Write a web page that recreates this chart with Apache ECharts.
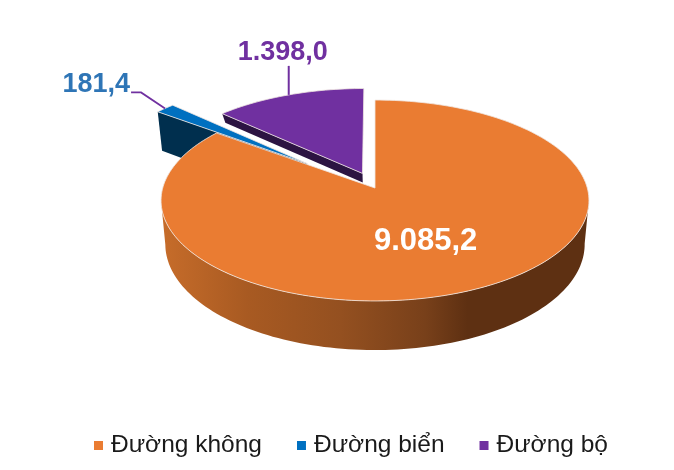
<!DOCTYPE html>
<html>
<head>
<meta charset="utf-8">
<style>html,body{margin:0;padding:0;background:#fff}#c{width:674px;height:470px}</style>
<script src="https://cdn.jsdelivr.net/npm/echarts@6/dist/echarts.min.js"></script>
</head>
<body>
<div id="c"></div>
<script>
const categories = ['Đường không', 'Đường biển', 'Đường bộ'];
const values = [9085.2, 181.4, 1398.0];
const topColors = ['#ea7c32', '#0070c0', '#7030a0'];
const sideColors = ['#5e3012', '#002f4e', '#2c1442'];
const labelColors = ['#ffffff', '#2e75b6', '#7030a0'];

const total = values.reduce((a, b) => a + b, 0);
const CX = 375, CY = 188, RX = 212.3, RY = 98.9, K = 0.1244, H = 43, S = 0.98;
// per-slice: explosion offset on the disc plane, fixed side depth (null = perspective)
const explode = [[0, 0], [-0.33, -0.255], [-0.06, -0.15]];
const sideFixed = [null, null, 9];
const font = 'bold SIZEpx "Liberation Sans", Arial, sans-serif';

function fmt(v) {
  const p = v.toFixed(1).split('.');
  return p[0].replace(/\B(?=(\d{3})+(?!\d))/g, '.') + ',' + p[1];
}
function proj(i, deg, r, bottom) {
  const a = deg * Math.PI / 180;
  const X = explode[i][0] + r * Math.sin(a);
  const Y = explode[i][1] - r * Math.cos(a);
  const w = 1 - K * Y;
  const x = RX * X / w, y = CY + RY * Y / w;
  if (!bottom) return [CX + x, y];
  const h = sideFixed[i] == null ? H / w : sideFixed[i];
  return [CX + x * S, y + h];
}
function arc(i, a0, a1, bottom) {
  const pts = [], n = Math.max(2, Math.ceil((a1 - a0) / 1.5));
  for (let t = 0; t <= n; t++) pts.push(proj(i, a0 + (a1 - a0) * t / n, 1, bottom));
  return pts;
}
function range(i) {
  let s = 0;
  for (let j = 0; j < i; j++) s += values[j];
  return [s / total * 360, (s + values[i]) / total * 360];
}
// keep only the stretch of a rim between its rightmost and leftmost points
function trimToExtremes(pts) {
  let r = 0, l = 0;
  pts.forEach((p, k) => { if (p[0] > pts[r][0]) r = k; if (p[0] < pts[l][0]) l = k; });
  return pts.slice(r, l + 1);
}
const rimGrad = new echarts.graphic.LinearGradient(163, 0, 586, 0, [
  { offset: 0, color: '#c66c2a' },
  { offset: 0.2, color: '#a85a22' },
  { offset: 0.42, color: '#945020' },
  { offset: 0.62, color: '#78401a' },
  { offset: 0.72, color: '#5e3012' },
  { offset: 1, color: '#5e3012' }
], true);
const edge = 'rgba(240,232,226,0.9)';

function renderSlice(i) {
  return function (params, api) {
    const [a0, a1] = range(i);
    const mid = (a0 + a1) / 2;
    const children = [];
    if (i === 0) {
      const top = trimToExtremes(arc(0, 40, 300, false));
      const bot = trimToExtremes(arc(0, 40, 300, true)).reverse();
      children.push({ type: 'polygon', shape: { points: top.concat(bot) }, style: { fill: rimGrad } });
    } else {
      // cut face along the slice's starting radial edge
      children.push({ type: 'polygon', shape: { points: [proj(i, a0, 1, false), proj(i, a0, 1, true), proj(i, a0, 0, true), proj(i, a0, 0, false)] }, style: { fill: sideColors[i] } });
    }
    const face = [proj(i, a0, 0, false)].concat(arc(i, a0, a1, false));
    children.push({ type: 'polygon', shape: { points: face }, style: { fill: topColors[i], stroke: edge, lineWidth: 0.9 } });

    const txt = fmt(api.value(0));
    if (i === 0) {
      const p = proj(0, mid, 0.53, false);
      children.push({ type: 'text', style: { x: p[0] - 3, y: p[1] + 4, text: txt, fill: labelColors[0], font: font.replace('SIZE', 31), align: 'center', verticalAlign: 'middle' } });
    } else if (i === 1) {
      const p = proj(1, mid, 1, false);
      const knee = [p[0] - 24, p[1] - 16];
      const end = [knee[0] - 10, knee[1]];
      children.push({ type: 'polyline', shape: { points: [p, knee, end] }, style: { fill: 'none', stroke: '#7030a0', lineWidth: 1.8 } });
      children.push({ type: 'text', style: { x: end[0] - 1, y: end[1] - 8, text: txt, fill: labelColors[1], font: font.replace('SIZE', 27), align: 'right', verticalAlign: 'middle' } });
    } else {
      const p = proj(2, mid, 1, false);
      const end = [p[0], p[1] - 29];
      children.push({ type: 'polyline', shape: { points: [p, end] }, style: { fill: 'none', stroke: '#7030a0', lineWidth: 2 } });
      children.push({ type: 'text', style: { x: p[0] - 6, y: end[1] - 13.5, text: txt, fill: labelColors[2], font: font.replace('SIZE', 27), align: 'center', verticalAlign: 'middle' } });
    }
    return { type: 'group', children };
  };
}

// draw order back to front: road, sea, air
const drawOrder = [2, 1, 0];
const chart = echarts.init(document.getElementById('c'), null, { renderer: 'canvas' });
chart.setOption({
  animation: false,
  backgroundColor: '#ffffff',
  legend: {
    data: categories.map(n => ({ name: n, icon: 'rect' })),
    left: 89,
    top: 428,
    itemWidth: 9,
    itemHeight: 9,
    itemGap: 35,
    selectedMode: false,
    textStyle: { fontFamily: '"Liberation Sans", Arial, sans-serif', fontSize: 24.5, color: '#1a1a1a', padding: [0, 0, 0, 3] }
  },
  series: drawOrder.map((i, k) => ({
    type: 'custom',
    name: categories[i],
    coordinateSystem: 'none',
    z: 2 + k,
    itemStyle: { color: topColors[i] },
    data: [[values[i]]],
    renderItem: renderSlice(i)
  }))
});
</script>
</body>
</html>
